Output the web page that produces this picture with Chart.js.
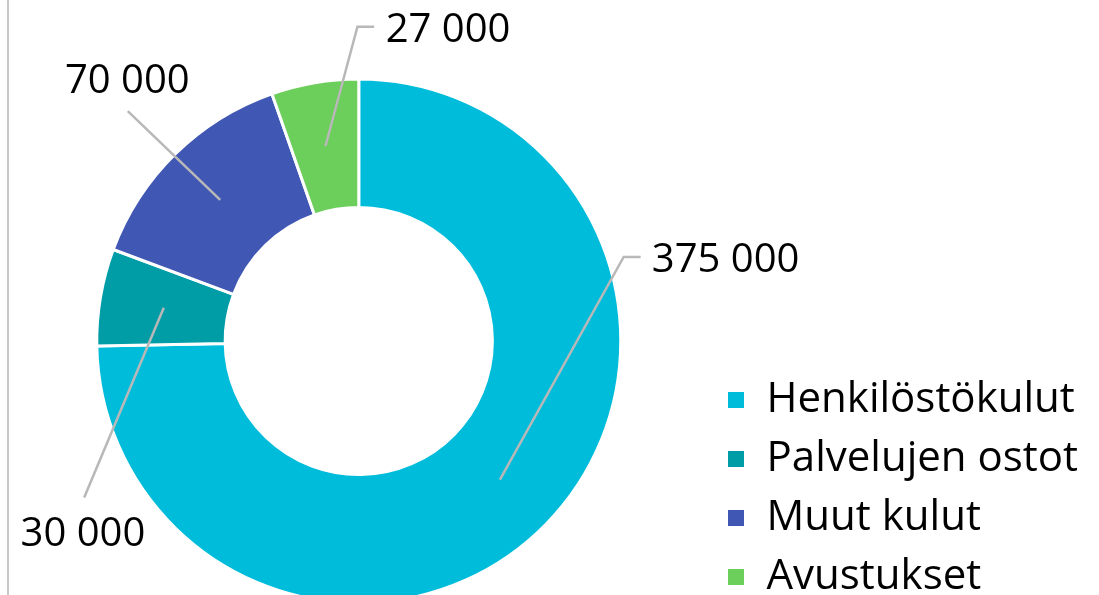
<!DOCTYPE html>
<html>
<head>
<meta charset="utf-8">
<script src="https://cdn.jsdelivr.net/npm/chart.js@4.4.0/dist/chart.umd.min.js"></script>
<style>
html,body{margin:0;padding:0;background:#fff;}
#wrap{position:relative;width:1099px;height:595px;overflow:hidden;}
#frame{position:absolute;left:7px;top:0;width:2px;height:595px;background:#c9c9c9;}
</style>
</head>
<body>
<div id="wrap"><canvas id="c"></canvas><div id="frame"></div></div>
<script>
const categories = ['Henkilöstökulut', 'Palvelujen ostot', 'Muut kulut', 'Avustukset'];
const values = [375000, 30000, 70000, 27000];
const colors = ['#00BCDB', '#009DA7', '#4058B4', '#6CCE5B'];

// label / leader placement relative to the ring centre, in units of the outer radius
const labelLayout = [
  {elbow: [1.015, -0.322], end: [1.080, -0.322], text: [1.123, -0.264], align: 'left'},
  {elbow: [-1.052, 0.600], end: [-1.052, 0.600], text: [-1.057, 0.784], align: 'center'},
  {elbow: [-0.885, -0.881], end: [-0.885, -0.881], text: [-0.887, -0.950], align: 'center'},
  {elbow: [-0.005, -1.204], end: [0.059, -1.204], text: [0.103, -1.144], align: 'left'}
];

function fmt(v) {
  return String(v).replace(/\B(?=(\d{3})+(?!\d))/g, ' ');
}

const leaderLabels = {
  id: 'leaderLabels',
  afterDatasetsDraw(chart) {
    const ctx = chart.ctx;
    const meta = chart.getDatasetMeta(0);
    meta.data.forEach((arc, i) => {
      const p = arc.getProps(['x', 'y', 'startAngle', 'endAngle', 'innerRadius', 'outerRadius'], true);
      const R = p.outerRadius - 1;
      const mid = (p.startAngle + p.endAngle) / 2;
      const r = (p.innerRadius + p.outerRadius) / 2;
      const L = labelLayout[i];
      const sx = p.x + Math.cos(mid) * r;
      const sy = p.y + Math.sin(mid) * r;
      ctx.save();
      ctx.strokeStyle = '#B8B8B8';
      ctx.lineWidth = 2.5;
      ctx.beginPath();
      ctx.moveTo(sx, sy);
      ctx.lineTo(p.x + L.elbow[0] * R, p.y + L.elbow[1] * R);
      ctx.lineTo(p.x + L.end[0] * R, p.y + L.end[1] * R);
      ctx.stroke();
      ctx.font = '40px "Open Sans"';
      ctx.fillStyle = '#000';
      ctx.textAlign = L.align;
      ctx.textBaseline = 'alphabetic';
      ctx.fillText(fmt(values[i]), p.x + L.text[0] * R, p.y + L.text[1] * R);
      ctx.restore();
    });
  }
};

function build() {
  new Chart(document.getElementById('c'), {
    type: 'doughnut',
    data: {
      labels: categories,
      datasets: [{
        data: values,
        backgroundColor: colors,
        borderColor: '#ffffff',
        borderWidth: 3,
        hoverOffset: 0
      }]
    },
    options: {
      responsive: true,
      maintainAspectRatio: false,
      animation: false,
      radius: 262,
      cutout: '51%',
      layout: {padding: {left: 8, right: 11, top: 87, bottom: -20}},
      plugins: {
        tooltip: {enabled: false},
        legend: {
          position: 'right',
          align: 'end',
          labels: {
            boxWidth: 19,
            boxHeight: 19,
            padding: 17,
            color: '#000',
            font: {family: '"Open Sans"', size: 42}
          }
        }
      }
    },
    plugins: [leaderLabels]
  });
}
if (document.fonts && document.fonts.load) {
  Promise.all([document.fonts.load('42px "Open Sans"'), document.fonts.load('40px "Open Sans"')]).then(build, build);
} else { build(); }
</script>
</body>
</html>
